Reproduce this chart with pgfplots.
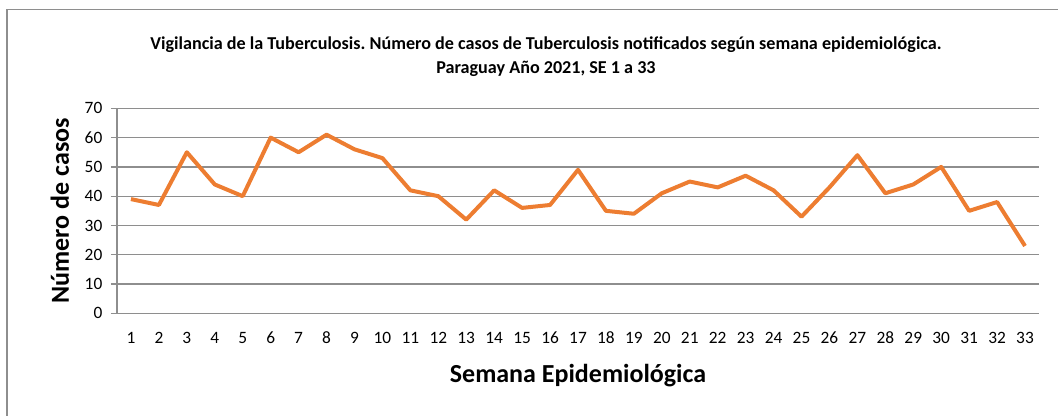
\documentclass[border=0pt]{standalone}
\usepackage{fontspec}
\setmainfont{Carlito}
\usepackage{pgfplots}
\pgfplotsset{compat=1.18}
\definecolor{serie}{HTML}{ED7D31}
\definecolor{rejilla}{HTML}{8E8E8E}
\frenchspacing
\begin{document}
\begin{tikzpicture}
\useasboundingbox (0,0) rectangle (793.5pt,312pt);
% marco del grafico (recortado a la derecha y abajo)
\draw[rejilla, line width=1.1pt] (5.25pt,0pt) -- (5.25pt,304.9pt) -- (793.5pt,304.9pt);
\node[font=\bfseries\fontsize{13.6}{18}\selectfont, align=center] at (409.5pt,269.5pt)
  {Vigilancia de la Tuberculosis. Número de casos de Tuberculosis notificados según semana epidemiológica.\\
   Paraguay Año 2021, SE 1 a 33};
\begin{axis}[
    at={(87.75pt,77pt)}, anchor=south west,
    scale only axis, width=691.5pt, height=153.75pt,
    xmin=0.5, xmax=33.5, ymin=0, ymax=70,
    xtick={1,...,33}, ytick={0,10,...,70},
    axis lines*=left,
    axis line style={rejilla, line width=1pt},
    ymajorgrids,
    grid style={rejilla, line width=1pt},
    major x tick style={draw=none},
    major y tick style={rejilla, line width=1pt},
    tick align=outside, major tick length=4.5pt,
    tick label style={font=\fontsize{13}{15}\selectfont},
    /pgf/number format/assume math mode=true,
    xticklabel style={yshift=-6pt},
    yticklabel style={xshift=-3pt},
    xlabel={\textbf{Semana Epidemiológica}},
    ylabel={\textbf{Número de casos}},
    label style={font=\fontsize{19.5}{22}\selectfont},
    xlabel style={at={(axis description cs:0.5,-0.306)}, anchor=center},
    ylabel style={at={(axis description cs:-0.062,0.5)}, anchor=center, rotate=0},
]
% casos notificados por semana epidemiologica
\addplot[serie, line width=3pt, line join=round] coordinates {
    (1,39) (2,37) (3,55) (4,44) (5,40) (6,60) (7,55) (8,61) (9,56) (10,53)
    (11,42) (12,40) (13,32) (14,42) (15,36) (16,37) (17,49) (18,35) (19,34)
    (20,41) (21,45) (22,43) (23,47) (24,42) (25,33) (26,43) (27,54) (28,41)
    (29,44) (30,50) (31,35) (32,38) (33,23)
};
\end{axis}
\end{tikzpicture}
\end{document}
